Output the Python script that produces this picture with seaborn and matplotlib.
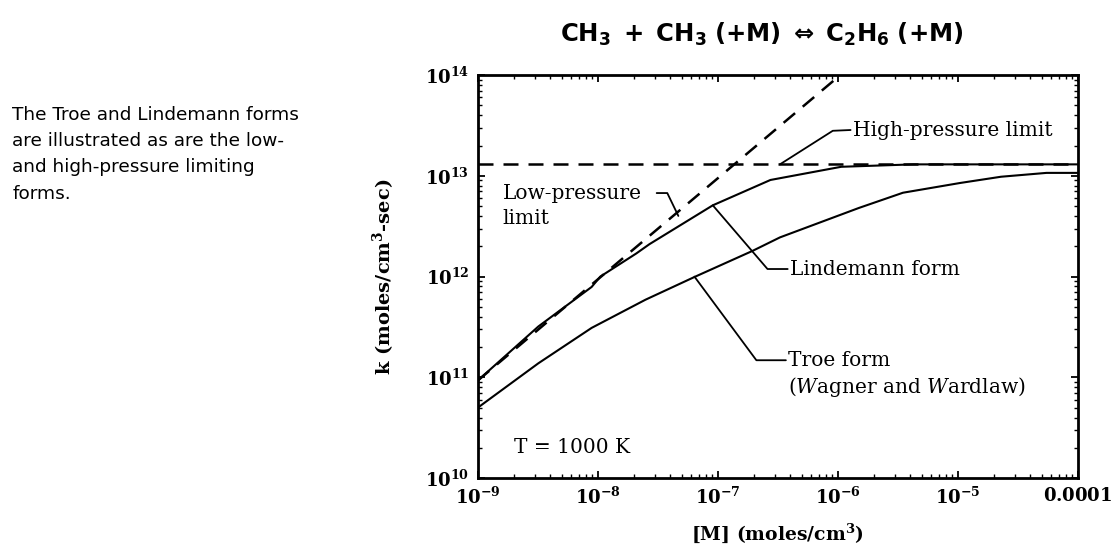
import numpy as np
import pandas as pd
import seaborn as sns
import matplotlib
matplotlib.use("Agg")
import matplotlib.pyplot as plt
from matplotlib.ticker import LogLocator, NullFormatter

# values
conc_lind = [1e-9, 3.2e-9, 8.9e-9, 1.05e-8, 2.1e-8, 2.7e-8, 9.1e-8, 2.75e-7, 1.07e-6, 4.3e-6, 1e-4]
k_lind = [9.3e10, 3.2e11, 7.9e11, 1.0e12, 1.7e12, 2.1e12, 5.1e12, 9.1e12, 1.23e13, 1.3e13, 1.3e13]

conc_troe = [1e-9, 3.2e-9, 8.9e-9, 2.5e-8, 6.5e-8, 1.95e-7, 3.3e-7, 1.5e-6, 3.5e-6, 1.05e-5, 2.3e-5, 5.5e-5, 1e-4]
k_troe = [5.0e10, 1.38e11, 3.1e11, 5.9e11, 1.0e12, 1.8e12, 2.45e12, 4.8e12, 6.8e12, 8.5e12, 9.8e12, 1.07e13, 1.07e13]

conc_low = [1e-9, 1.05e-6]
k_low = [9.3e10, 1e14]

conc_high = [1e-9, 1e-4]
k_high = [1.3e13, 1.3e13]

xticks = [1e-9, 1e-8, 1e-7, 1e-6, 1e-5, 1e-4]
xticklabels = [r'$\mathbf{10^{-9}}$', r'$\mathbf{10^{-8}}$', r'$\mathbf{10^{-7}}$',
               r'$\mathbf{10^{-6}}$', r'$\mathbf{10^{-5}}$', r'$\mathbf{0.0001}$']
yticks = [1e10, 1e11, 1e12, 1e13, 1e14]
yticklabels = [r'$\mathbf{10^{10}}$', r'$\mathbf{10^{11}}$', r'$\mathbf{10^{12}}$',
               r'$\mathbf{10^{13}}$', r'$\mathbf{10^{14}}$']

sns.set_style("ticks")

serif = "DejaVu Serif"
plt.rcParams['font.family'] = [serif]
plt.rcParams['mathtext.fontset'] = 'custom'
plt.rcParams['mathtext.rm'] = 'DejaVu Sans:bold'
plt.rcParams['mathtext.bf'] = serif + ':bold'
plt.rcParams['mathtext.it'] = serif + ':italic'
for key in ['text.color', 'axes.labelcolor', 'xtick.color', 'ytick.color', 'axes.edgecolor']:
    plt.rcParams[key] = 'black'

fig = plt.figure(figsize=(11.11, 5.44), dpi=100)
ax = fig.add_axes([0.430, 0.121, 0.540, 0.741])

lind = pd.DataFrame({'conc': conc_lind, 'k': k_lind})
troe = pd.DataFrame({'conc': conc_troe, 'k': k_troe})
low = pd.DataFrame({'conc': conc_low, 'k': k_low})
high = pd.DataFrame({'conc': conc_high, 'k': k_high})

sns.lineplot(data=high, x='conc', y='k', ax=ax, color='black', lw=1.8, linestyle=(0, (6, 4)))
sns.lineplot(data=low, x='conc', y='k', ax=ax, color='black', lw=1.8, linestyle=(0, (6, 4)))
sns.lineplot(data=lind, x='conc', y='k', ax=ax, color='black', lw=1.5)
sns.lineplot(data=troe, x='conc', y='k', ax=ax, color='black', lw=1.5)

ax.set_xscale('log')
ax.set_yscale('log')
ax.set_xlim(1e-9, 1e-4)
ax.set_ylim(1e10, 1e14)

ax.set_xticks(xticks)
ax.set_xticklabels(xticklabels, fontsize=13)
ax.set_yticks(yticks)
ax.set_yticklabels(yticklabels, fontsize=13)
ax.xaxis.set_minor_locator(LogLocator(base=10, subs=np.arange(2, 10), numticks=20))
ax.yaxis.set_minor_locator(LogLocator(base=10, subs=np.arange(2, 10), numticks=20))
ax.xaxis.set_minor_formatter(NullFormatter())
ax.yaxis.set_minor_formatter(NullFormatter())
ax.tick_params(which='major', direction='in', length=5, width=1.3, top=True, right=True, pad=6)
ax.tick_params(which='minor', direction='in', length=3, width=1.0, top=True, right=True)
for s in ax.spines.values():
    s.set_linewidth(2)
    s.set_visible(True)

ax.set_xlabel(r'[M] (moles/cm$^{\mathbf{3}}$)', fontsize=13.5, fontweight='bold', labelpad=10)
ax.set_ylabel(r'k (moles/cm$^{\mathbf{3}}$-sec)', fontsize=14, fontweight='bold', labelpad=20)

# callouts
fs = 14.5
ax.plot([1.28e-6, 9.1e-7, 3.3e-7], [2.85e13, 2.8e13, 1.3e13], color='black', lw=1.3)
ax.text(1.35e-6, 2.85e13, 'High-pressure limit', fontsize=fs, va='center', ha='left')

ax.plot([3.1e-8, 3.8e-8, 4.7e-8], [6.75e12, 6.75e12, 4.0e12], color='black', lw=1.3)
ax.text(1.62e-9, 5.0e12, 'Low-pressure\nlimit', fontsize=fs, va='center', ha='left',
        linespacing=1.4)

ax.plot([3.83e-7, 2.6e-7, 9.1e-8], [1.19e12, 1.19e12, 5.1e12], color='black', lw=1.3)
ax.text(4.0e-7, 1.19e12, 'Lindemann form', fontsize=fs, va='center', ha='left')

ax.plot([3.7e-7, 2.1e-7, 6.4e-8], [1.48e11, 1.48e11, 1.0e12], color='black', lw=1.3)
ax.text(3.85e-7, 1.48e11, 'Troe form', fontsize=fs, va='center', ha='left')
ax.text(3.85e-7, 8.0e10, r'($\mathit{W}$agner and $\mathit{W}$ardlaw)', fontsize=fs,
        va='center', ha='left')

ax.text(2.0e-9, 2.03e10, 'T = 1000 K', fontsize=fs, va='center', ha='left')

fig.text(0.686, 0.936, r'$\mathrm{CH_3\ +\ CH_3\ (+M)\ \Leftrightarrow\ C_2H_6\ (+M)}$',
         fontsize=17.5, ha='center', va='center')

fig.text(0.011, 0.806, 'The Troe and Lindemann forms\nare illustrated as are the low-\n'
         'and high-pressure limiting\nforms.', fontsize=13.3, ha='left', va='top',
         family=['DejaVu Sans'], linespacing=1.6)

fig.savefig('out.png', dpi=100)
